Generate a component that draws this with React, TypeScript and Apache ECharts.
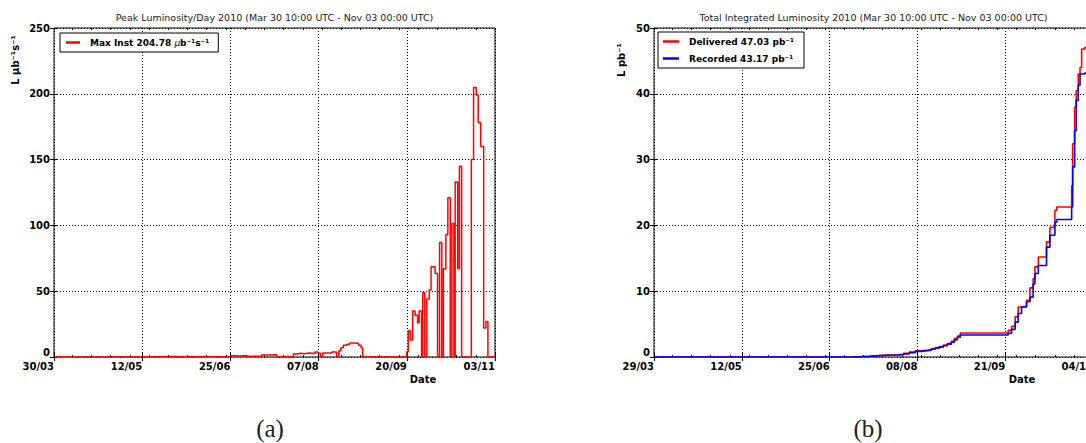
import React, { useEffect, useRef } from 'react';
import * as echarts from 'echarts';

const FONT = "'DejaVu Sans', sans-serif";

// ---- Chart (a): peak luminosity per day (days since 30/03/2010) ----
const peakTickLabels = ['30/03', '12/05', '25/06', '07/08', '20/09', '03/11'];
const peakDays = [0, 44.5, 57.5, 87.5, 89, 92, 95.5, 101, 102.6, 106,
  110, 118.3, 120, 122, 124, 126, 129, 130.5, 131.7, 132.8,
  137.3, 139.7, 140.8, 141.8, 143, 144.7, 146.3, 148, 150.5, 151.8,
  152.6, 174.4, 175.1, 176.1, 177.3, 178.5, 179.7, 180.5, 181.7, 182.3,
  183.3, 184.3, 185.5, 186.4, 188.4, 189.6, 190.6, 191.7, 192.5, 193.7,
  194.7, 195.9, 196.7, 197.7, 198.3, 199.6, 200.4, 201.5, 206.3, 207.4,
  208.7, 209.7, 210.9, 212.4, 213.5, 214.5, 218];
const peakValues = [0, 0.4, 0, 1.0, 0.8, 1.2, 0.5, 0.3, 1.6, 1.8,
  0.2, 2.3, 2.8, 2.5, 3.0, 2.6, 3.8, 2.8, 0, 3.0,
  3.8, 0.5, 4.8, 7, 9, 9.6, 10.6, 10.4, 9, 7,
  0, 4, 20, 13, 35, 31.7, 26, 35, 0, 49,
  0, 44, 51, 68.5, 63.5, 0, 87, 0, 67, 93,
  121, 0, 101.5, 0, 133, 67, 145, 0, 150, 204.78,
  199, 178, 160, 22, 27, 0, 0];

// ---- Chart (b): integrated luminosity (days since 29/03/2010) ----
const lumiTickLabels = ['29/03', '12/05', '25/06', '08/08', '21/09', '04/11'];
const lumiDays = [0, 44, 88, 100, 104, 108, 111, 117, 122, 125,
  128, 131, 134, 137, 139, 141, 143, 145, 147, 149,
  150.5, 152, 153.5, 177.5, 179.2, 181, 182.5, 184.2, 186.7, 188.4,
  190, 190.9, 192.6, 196.7, 198.4, 200.9, 201.8, 209.3, 209.8, 210.8,
  211.6, 212.6, 213.5, 214.3, 215.8, 220];
const deliveredValues = [0, 0.01, 0.03, 0.06, 0.12, 0.2, 0.3, 0.35, 0.42, 0.55,
  0.75, 0.95, 1.05, 1.15, 1.3, 1.45, 1.6, 1.8, 2.05, 2.4,
  2.8, 3.2, 3.65, 4.05, 4.65, 6.1, 7.6, 7.7, 8.6, 10.5,
  11.9, 13.7, 15.2, 17.5, 19.7, 22.3, 22.8, 26, 32.4, 38,
  40.5, 43, 44, 46.8, 47.03, 47.03];
const recordedValues = [0, 0.01, 0.025, 0.05, 0.1, 0.17, 0.26, 0.3, 0.36, 0.48,
  0.66, 0.85, 0.95, 1.05, 1.2, 1.35, 1.5, 1.7, 1.95, 2.25,
  2.6, 3.0, 3.35, 3.6, 4.2, 5.3, 6.6, 7.6, 8.4, 9.1,
  11.1, 12.7, 13.9, 16.7, 18.5, 20.5, 20.9, 22.8, 28.9, 34.4,
  39, 41.3, 43.0, 43.0, 43.17, 43.17];

const peakName = 'Max Inst 204.78 {i|μ}b⁻¹s⁻¹';
const deliveredName = 'Delivered 47.03 pb⁻¹';
const recordedName = 'Recorded 43.17 pb⁻¹';

const dotted = { show: true, lineStyle: { color: '#000', type: [1, 2], width: 1 } };
const labelStyle = { fontSize: 10, fontWeight: 'bold', fontFamily: FONT, color: '#000' };

function mainX(gridIndex: number, max: number, interval: number, labels: string[], pos: string, withLabels: boolean) {
  return {
    type: 'value', gridIndex, min: 0, max, interval, position: pos,
    axisLine: { show: false },
    axisTick: { show: true, inside: true, length: 4, lineStyle: { color: '#000' } },
    splitLine: withLabels ? dotted : { show: false },
    axisLabel: withLabels ? {
      ...labelStyle, align: 'right', margin: 4,
      formatter: (v: number) => {
        const k = Math.round(v / interval);
        return Math.abs(v - k * interval) < 1e-6 ? (labels[k] ?? '') : '';
      },
    } : { show: false },
  };
}
function minorX(gridIndex: number, max: number, interval: number, pos: string) {
  return {
    type: 'value', gridIndex, min: 0, max, interval, inverse: true, position: pos,
    axisLine: { show: false }, splitLine: { show: false }, axisLabel: { show: false },
    axisTick: { show: true, inside: true, length: 2, lineStyle: { color: '#000' } },
  };
}
function mainY(gridIndex: number, max: number, interval: number, pos: string, withLabels: boolean) {
  return {
    type: 'value', gridIndex, min: 0, max, interval, position: pos,
    axisLine: { show: false },
    axisTick: { show: true, inside: true, length: 4, lineStyle: { color: '#000' } },
    splitLine: withLabels ? dotted : { show: false },
    axisLabel: withLabels ? {
      ...labelStyle, margin: 4,
      formatter: (v: number) => (v === 0 ? '{z|0}' : String(v)),
      rich: { z: { ...labelStyle, padding: [0, 0, 9, 0] } },
    } : { show: false },
  };
}

const legendBase = {
  orient: 'vertical', icon: 'rect', itemHeight: 2.5,
  backgroundColor: '#fff', borderColor: '#000', borderWidth: 1, borderRadius: 0,
  textStyle: { fontSize: 9, fontWeight: 'bold', fontFamily: FONT, color: '#000', padding: [0, 0, 0, 5], rich: { i: { fontSize: 9, fontStyle: 'italic', fontWeight: 'normal', fontFamily: FONT, color: '#000' } } },
};

export default function App() {
  const ref = useRef<HTMLDivElement>(null);
  useEffect(() => {
    const chart = echarts.init(ref.current!, null, { renderer: 'svg' });
    const peakData = peakDays.map((d, i) => [d, peakValues[i]]);
    const deliveredData = lumiDays.map((d, i) => [d, deliveredValues[i]]);
    const recordedData = lumiDays.map((d, i) => [d, recordedValues[i]]);
    const titleStyle = { fontSize: 9.5, fontWeight: 'normal', fontFamily: FONT, color: '#222' };
    chart.setOption({
      animation: false,
      backgroundColor: '#fff',
      title: [
        { text: 'Peak Luminosity/Day 2010 (Mar 30 10:00 UTC - Nov 03 00:00 UTC)', left: 274.5, top: 12, textAlign: 'center', padding: 0, textStyle: titleStyle },
        { text: 'Total Integrated Luminosity 2010 (Mar 30 10:00 UTC - Nov 03 00:00 UTC)', left: 873.5, top: 12, textAlign: 'center', padding: 0, textStyle: titleStyle },
      ],
      grid: [
        { left: 54, top: 28, width: 441, height: 329, show: true, borderColor: '#000', borderWidth: 1, backgroundColor: 'transparent' },
        { left: 54, top: 28, width: 441, height: 329, show: false },
        { left: 654, top: 28, width: 439, height: 329, show: true, borderColor: '#000', borderWidth: 1, backgroundColor: 'transparent' },
        { left: 654, top: 28, width: 439, height: 329, show: false },
      ],
      xAxis: [
        mainX(0, 218, 43.6, peakTickLabels, 'bottom', true),
        mainX(0, 218, 43.6, peakTickLabels, 'top', false),
        minorX(1, 218, 9.5, 'bottom'),
        minorX(1, 218, 9.5, 'top'),
        mainX(2, 220, 44, lumiTickLabels, 'bottom', true),
        mainX(2, 220, 44, lumiTickLabels, 'top', false),
        minorX(3, 220, 9.58, 'bottom'),
        minorX(3, 220, 9.58, 'top'),
      ],
      yAxis: [
        mainY(0, 250, 50, 'left', true),
        mainY(0, 250, 50, 'right', false),
        { type: 'value', gridIndex: 1, min: 0, max: 1, show: false },
        mainY(2, 50, 10, 'left', true),
        mainY(2, 50, 10, 'right', false),
        { type: 'value', gridIndex: 3, min: 0, max: 1, show: false },
      ],
      legend: [
        { ...legendBase, data: [peakName], left: 60, top: 33, itemWidth: 14, padding: [5, 9, 5, 6] },
        { ...legendBase, data: [deliveredName, recordedName], left: 658, top: 32, itemWidth: 16, itemGap: 8, padding: [5, 10, 5, 5] },
      ],
      series: [
        { type: 'line', name: peakName, xAxisIndex: 0, yAxisIndex: 0, data: peakData, step: 'end', symbol: 'none', showSymbol: false, clip: true, color: '#ff0000', lineStyle: { color: '#ff0000', width: 1.5 }, z: 3 },
        { type: 'line', name: deliveredName, xAxisIndex: 4, yAxisIndex: 3, data: deliveredData, step: 'end', symbol: 'none', showSymbol: false, clip: true, color: '#ff0000', lineStyle: { color: '#ff0000', width: 1.6 }, z: 3 },
        { type: 'line', name: recordedName, xAxisIndex: 4, yAxisIndex: 3, data: recordedData, step: 'end', symbol: 'none', showSymbol: false, clip: true, color: '#0000ff', lineStyle: { color: '#0000ff', width: 1.6 }, z: 4 },
      ],
      graphic: [
        { type: 'text', x: 15, y: 60, rotation: Math.PI / 2, style: { text: 'L μb⁻¹s⁻¹', font: `bold 10px ${FONT}`, fill: '#000', align: 'center', verticalAlign: 'middle' } },
        { type: 'text', x: 621, y: 60, rotation: Math.PI / 2, style: { text: 'L pb⁻¹', font: `bold 10px ${FONT}`, fill: '#000', align: 'center', verticalAlign: 'middle' } },
        { type: 'text', x: 423, y: 379, style: { text: 'Date', font: `bold 10px ${FONT}`, fill: '#000', align: 'center', verticalAlign: 'middle' } },
        { type: 'text', x: 1022, y: 379, style: { text: 'Date', font: `bold 10px ${FONT}`, fill: '#000', align: 'center', verticalAlign: 'middle' } },
        { type: 'text', x: 270, y: 428, style: { text: '(a)', font: `25px 'Liberation Serif', serif`, fill: '#222', align: 'center', verticalAlign: 'middle' } },
        { type: 'text', x: 868, y: 428, style: { text: '(b)', font: `25px 'Liberation Serif', serif`, fill: '#222', align: 'center', verticalAlign: 'middle' } },
      ],
    });
    return () => chart.dispose();
  }, []);
  return (
    <div style={{ position: 'fixed', left: 0, top: 0, width: 1086, height: 443, overflow: 'hidden', background: '#fff' }}>
      <div ref={ref} style={{ width: 1100, height: 443 }} />
    </div>
  );
}
